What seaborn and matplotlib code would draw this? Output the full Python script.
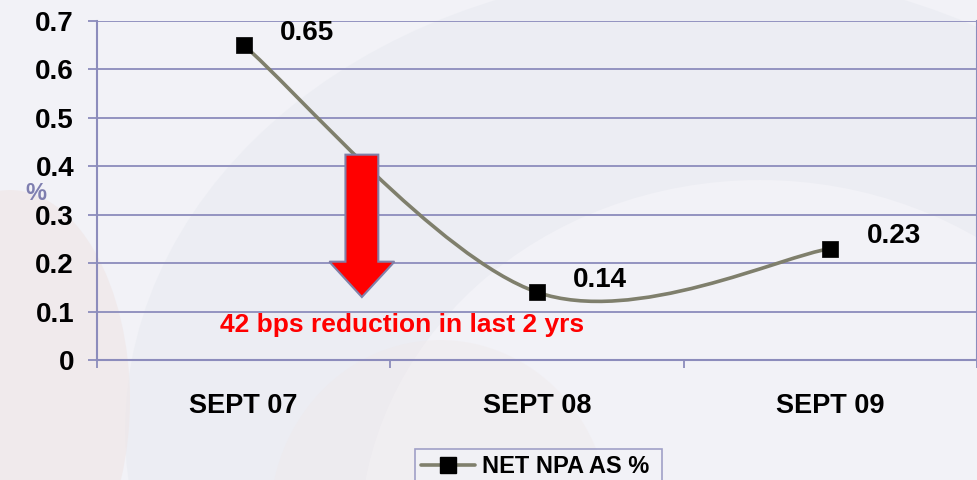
import numpy as np
import pandas as pd
import matplotlib
matplotlib.use("Agg")
import matplotlib.pyplot as plt
import seaborn as sns
from matplotlib.path import Path
from matplotlib.patches import PathPatch, FancyArrow, Ellipse
from matplotlib.lines import Line2D

# ---- data ----
categories = ["SEPT 07", "SEPT 08", "SEPT 09"]
values = [0.65, 0.14, 0.23]
series_name = "NET NPA AS %"
y_ticks = [0, 0.1, 0.2, 0.3, 0.4, 0.5, 0.6, 0.7]
y_tick_labels = ["0", "0.1", "0.2", "0.3", "0.4", "0.5", "0.6", "0.7"]
note_text = "42 bps reduction in last 2 yrs"

df = pd.DataFrame({"period": categories, "value": values, "x": np.arange(len(categories))})

sns.set_theme(style="white")
plt.rcParams["font.family"] = ["Liberation Sans", "DejaVu Sans"]
plt.rcParams["font.weight"] = "bold"
plt.rcParams["text.color"] = "black"
plt.rcParams["xtick.color"] = "black"
plt.rcParams["ytick.color"] = "black"

BG = "#f2f2f7"
GRID = "#8c8cbc"
LINE = "#7f7f6c"

fig = plt.figure(figsize=(9.78, 4.8), dpi=100, facecolor=BG)

# faint watermark-like background shapes
bgax = fig.add_axes([0, 0, 1, 1], zorder=-10)
bgax.set_xlim(0, 978); bgax.set_ylim(480, 0); bgax.axis("off")
bgax.add_patch(Ellipse((700, 430), 1150, 920, color="#e8ebf1", alpha=0.6, lw=0))
bgax.add_patch(Ellipse((760, 540), 800, 720, color="#f2f2f7", alpha=1.0, lw=0))
bgax.add_patch(Ellipse((10, 400), 240, 420, color="#efe6e6", alpha=0.6, lw=0))
bgax.add_patch(Ellipse((440, 520), 340, 360, color="#efe8e8", alpha=0.35, lw=0))

ax = fig.add_axes([97 / 978, 1 - 360 / 480, (977 - 97) / 978, (360 - 21) / 480])
ax.set_facecolor("none")

# smoothed line (Excel-style Bezier smoothing built from the data)
xs = df["x"].to_numpy(dtype=float)
ys = df["value"].to_numpy(dtype=float)
pts = np.column_stack([xs, ys])
n = len(pts)
verts = [tuple(pts[0])]
codes = [Path.MOVETO]
for i in range(n - 1):
    p_prev = pts[max(i - 1, 0)]
    p0 = pts[i]
    p1 = pts[i + 1]
    p_next = pts[min(i + 2, n - 1)]
    c1 = p0 + (p1 - p_prev) / 6.0
    c2 = p1 - (p_next - p0) / 6.0
    verts += [tuple(c1), tuple(c2), tuple(p1)]
    codes += [Path.CURVE4] * 3
ax.add_patch(PathPatch(Path(verts, codes), facecolor="none", edgecolor=LINE, lw=2.6, zorder=3))

sns.scatterplot(data=df, x="x", y="value", marker="s", s=125, color="black",
                edgecolor="black", linewidth=0.5, zorder=4, ax=ax, legend=False)

for xi, yi in zip(xs, ys):
    ax.annotate(f"{yi:.2f}", (xi, yi), xytext=(26, 9), textcoords="offset points",
                fontsize=20, fontweight="bold", color="black", va="center", ha="left")

ax.set_xlim(-0.5, 2.5)
ax.set_ylim(0, 0.7)
ax.set_yticks(y_ticks)
ax.set_yticklabels(y_tick_labels, fontsize=20, fontweight="bold")
ax.set_xticks([-0.5, 0.5, 1.5, 2.5])
ax.set_xticklabels([])
ax.set_xticks(xs, minor=True)
ax.set_xticklabels(categories, minor=True, fontsize=19.5, fontweight="bold")
ax.tick_params(axis="x", which="major", bottom=True, length=6, width=1.3, color=GRID, direction="out")
ax.tick_params(axis="x", which="minor", bottom=False, length=0, pad=24)
ax.tick_params(axis="y", left=True, length=6.5, width=1.3, color=GRID, pad=10)
ax.grid(axis="y", color=GRID, lw=1.3)
ax.set_axisbelow(True)
for side in ["left", "bottom", "right"]:
    ax.spines[side].set_visible(True)
    ax.spines[side].set_color(GRID)
    ax.spines[side].set_linewidth(1.5)
ax.spines["top"].set_visible(False)
ax.set_xlabel("")
ax.set_ylabel("")

fig.text(36 / 978, 1 - 193 / 480, "%", color="#7f7fb0", fontsize=17, fontweight="bold",
         ha="center", va="center")

# arrow annotation
ax.add_patch(FancyArrow(0.403, 0.424, 0, -0.294, width=0.112, head_width=0.222,
                        head_length=0.073, length_includes_head=True,
                        facecolor="#ff0000", edgecolor="#8080a8", lw=1.5, zorder=5))
ax.text(0.54, 0.072, note_text, color="#ff0000", fontsize=19, fontweight="bold",
        ha="center", va="center", zorder=5)

# legend
handle = Line2D([0], [0], color=LINE, lw=2.6, marker="s", markersize=11,
                markerfacecolor="black", markeredgecolor="black")
leg = fig.legend([handle], [series_name + " "], loc="upper left",
                 bbox_to_anchor=(415 / 978, 1 - 449 / 480), frameon=True, fancybox=False,
                 handlelength=2.3, borderpad=0.25, handletextpad=0.3, borderaxespad=0.0,
                 prop={"weight": "bold", "size": 17})
leg.get_frame().set_edgecolor(GRID)
leg.get_frame().set_facecolor(BG)
leg.get_frame().set_linewidth(1.2)

fig.savefig("out.png", dpi=100, facecolor=BG)
